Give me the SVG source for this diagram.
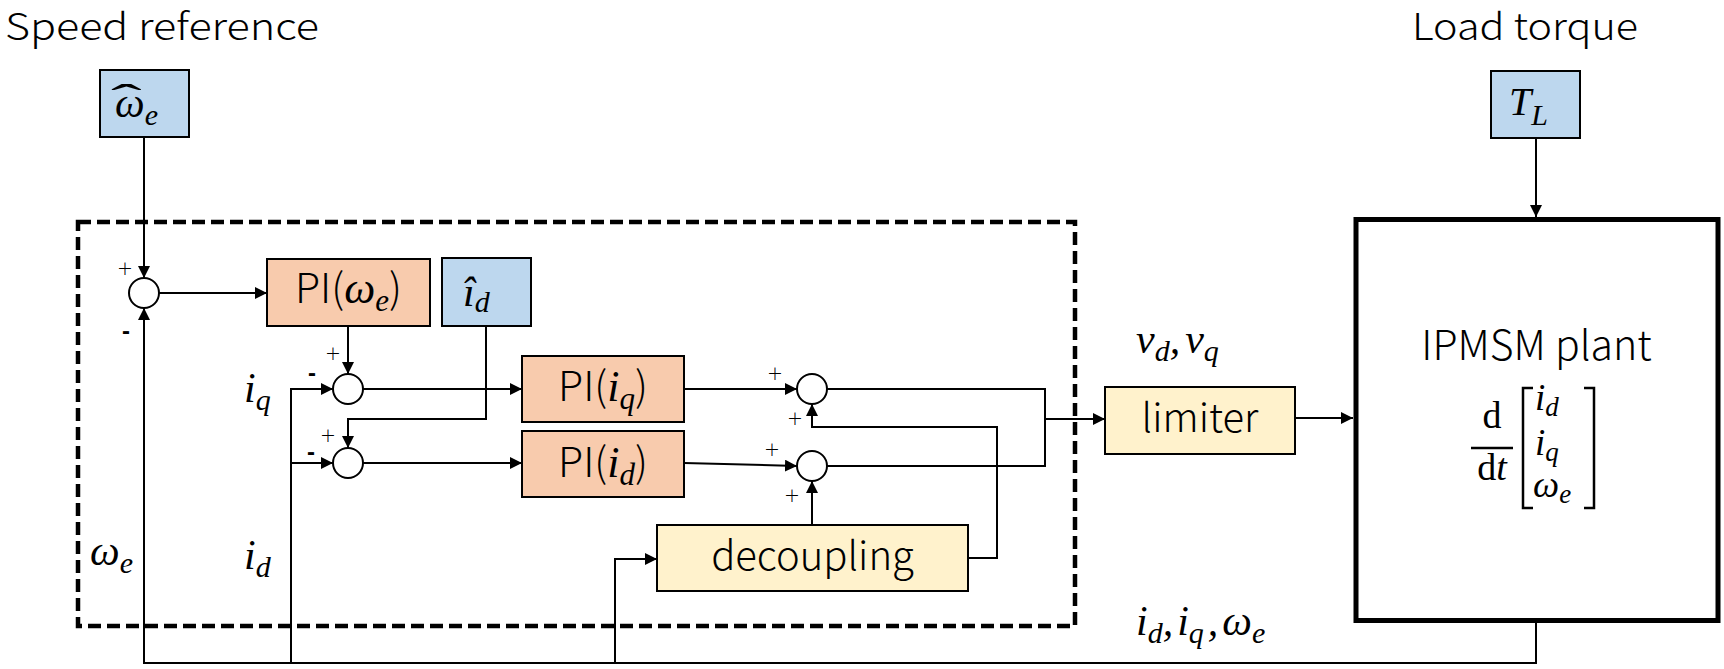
<svg xmlns="http://www.w3.org/2000/svg" width="1724" height="669" viewBox="0 0 1724 669">
<style>
.s{font-family:"Noto Sans CJK JP","Noto Sans",sans-serif;font-weight:300;fill:#000}
.m{font-family:"Liberation Serif",serif;font-style:italic;fill:#000}
.r{font-family:"Liberation Serif",serif;fill:#000}
.box{stroke:#000;stroke-width:2}
.blue{fill:#BDD7EE}
.orange{fill:#F8CBAD}
.yellow{fill:#FFF2CC}
.sum{fill:#fff;stroke:#000;stroke-width:2}
.c{fill:none;stroke:#000;stroke-width:2}
.ca{fill:none;stroke:#000;stroke-width:2;marker-end:url(#ah)}
.plus{font-family:"DejaVu Sans",sans-serif;font-weight:300;font-size:19px;fill:#000;text-anchor:middle}
.minus{font-family:"Liberation Sans",sans-serif;font-weight:bold;font-size:24px;fill:#000;text-anchor:middle}
</style>
<defs>
<marker id="ah" viewBox="0 0 12 12" refX="12" refY="6" markerWidth="12" markerHeight="12" markerUnits="userSpaceOnUse" orient="auto">
<path d="M0,0 L12,6 L0,12 z" fill="#000"/>
</marker>
</defs>
<rect width="1724" height="669" fill="#fff"/>

<text class="s" x="5" y="40" font-size="37" textLength="314" lengthAdjust="spacingAndGlyphs">Speed reference</text>
<text class="s" x="1412" y="40" font-size="37" textLength="226" lengthAdjust="spacingAndGlyphs">Load torque</text>

<rect id="controller" x="78" y="222" width="997" height="404" fill="none" stroke="#000" stroke-width="4.5" stroke-dasharray="13 6"/>

<g id="connectors">
<path class="ca" d="M144,137 V278"/>
<path class="ca" d="M159,293 H267"/>
<path class="ca" d="M348,326 V374"/>
<path class="ca" d="M363,389 H522"/>
<path class="ca" d="M486,326 V419 H348 V448"/>
<path class="ca" d="M363,463 H522"/>
<path class="ca" d="M684,389 H797"/>
<path class="ca" d="M684,463 L797,466"/>
<path class="ca" d="M812,525 V481"/>
<path class="ca" d="M968,558 H997 V427 H812 V404"/>
<path class="c" d="M827,389 H1045 V466 H827"/>
<path class="ca" d="M1045,419 H1105"/>
<path class="ca" d="M1295,418 H1353"/>
<path class="ca" d="M1536,138 V217"/>
<path class="ca" d="M1536,622 V663 H144 V308"/>
<path class="ca" d="M291,663 V389 H333"/>
<path class="ca" d="M291,463 H333"/>
<path class="ca" d="M615,663 V559 H657"/>
</g>

<g id="omega_ref">
<rect class="box blue" x="100" y="70" width="89" height="67"/>
<text class="m" x="115" y="117" font-size="42">ω<tspan font-size="30" dy="8">e</tspan></text>
<text class="r" x="0" y="0" font-size="40" transform="translate(111,112) scale(2.3,1)">ˆ</text>
</g>

<g id="sum1">
<circle class="sum" cx="144" cy="293" r="15"/>
<text class="plus" x="125" y="275">+</text>
<text class="minus" x="126" y="339">-</text>
</g>

<g id="pi_omega">
<rect class="box orange" x="267" y="259" width="163" height="67"/>
<text class="s" x="348.5" y="303" font-size="41" text-anchor="middle">PI(<tspan class="m" font-size="44">ω</tspan><tspan class="m" font-size="31" dy="8">e</tspan><tspan dy="-8">)</tspan></text>
</g>

<g id="id_ref">
<rect class="box blue" x="442" y="258" width="89" height="68"/>
<text class="m" x="463" y="306" font-size="42">î<tspan font-size="30" dy="6">d</tspan></text>
</g>

<g id="sum2">
<circle class="sum" cx="348" cy="389" r="15"/>
<text class="plus" x="333" y="360">+</text>
<text class="minus" x="312" y="381">-</text>
</g>

<g id="sum3">
<circle class="sum" cx="348" cy="463" r="15"/>
<text class="plus" x="328" y="442">+</text>
<text class="minus" x="311" y="460">-</text>
</g>

<g id="pi_iq">
<rect class="box orange" x="522" y="356" width="162" height="66"/>
<text class="s" x="603" y="401" font-size="41" text-anchor="middle">PI(<tspan class="m" font-size="44">i</tspan><tspan class="m" font-size="31" dy="8">q</tspan><tspan dy="-8">)</tspan></text>
</g>

<g id="pi_id">
<rect class="box orange" x="522" y="431" width="162" height="66"/>
<text class="s" x="603" y="477" font-size="41" text-anchor="middle">PI(<tspan class="m" font-size="44">i</tspan><tspan class="m" font-size="31" dy="8">d</tspan><tspan dy="-8">)</tspan></text>
</g>

<g id="sum4">
<circle class="sum" cx="812" cy="389" r="15"/>
<text class="plus" x="775" y="380">+</text>
<text class="plus" x="795" y="425">+</text>
</g>

<g id="sum5">
<circle class="sum" cx="812" cy="466" r="15"/>
<text class="plus" x="772" y="456">+</text>
<text class="plus" x="792" y="502">+</text>
</g>

<g id="decoupling">
<rect class="box yellow" x="657" y="525" width="311" height="66"/>
<text class="s" x="812.5" y="570" font-size="40" text-anchor="middle">decoupling</text>
</g>

<g id="limiter">
<rect class="box yellow" x="1105" y="387" width="190" height="67"/>
<text class="s" x="1200" y="432" font-size="40" text-anchor="middle">limiter</text>
</g>

<g id="load_torque">
<rect class="box blue" x="1491" y="71" width="89" height="67"/>
<text class="m" x="1509" y="115" font-size="40">T<tspan font-size="30" dy="10">L</tspan></text>
</g>

<g id="plant">
<rect x="1356" y="219.5" width="362" height="401" fill="#fff" stroke="#000" stroke-width="5"/>
<text class="s" x="1536.5" y="360" font-size="41" text-anchor="middle">IPMSM plant</text>
<text class="r" x="1492" y="428" font-size="38" text-anchor="middle">d</text>
<line x1="1471" y1="448" x2="1513" y2="448" stroke="#000" stroke-width="2.5"/>
<text class="r" x="1492" y="480" font-size="38" text-anchor="middle">d<tspan class="m">t</tspan></text>
<polyline points="1533,388 1523,388 1523,508 1533,508" fill="none" stroke="#000" stroke-width="2.5"/>
<polyline points="1584,388 1594,388 1594,508 1584,508" fill="none" stroke="#000" stroke-width="2.5"/>
<text class="m" x="1535" y="410" font-size="37">i<tspan font-size="27" dy="6">d</tspan></text>
<text class="m" x="1535" y="455" font-size="37">i<tspan font-size="27" dy="6">q</tspan></text>
<text class="m" x="1533" y="497" font-size="37">ω<tspan font-size="27" dy="6">e</tspan></text>
</g>

<g id="labels">
<text class="m" x="244" y="402" font-size="42">i<tspan font-size="30" dy="8">q</tspan></text>
<text class="m" x="90" y="565" font-size="42">ω<tspan font-size="30" dy="8">e</tspan></text>
<text class="m" x="244" y="569" font-size="42">i<tspan font-size="30" dy="8">d</tspan></text>
<text class="m" x="1136" y="353" font-size="42">v<tspan font-size="30" dy="8">d</tspan><tspan dy="-8">,</tspan><tspan dx="5">v</tspan><tspan font-size="30" dy="8">q</tspan></text>
<text class="m" x="1136" y="635" font-size="42">i<tspan font-size="30" dy="8">d</tspan><tspan dy="-8">,</tspan><tspan dx="4">i</tspan><tspan font-size="30" dy="8">q</tspan><tspan dy="-8" dx="4">,</tspan><tspan dx="4">ω</tspan><tspan font-size="30" dy="8">e</tspan></text>
</g>
</svg>
